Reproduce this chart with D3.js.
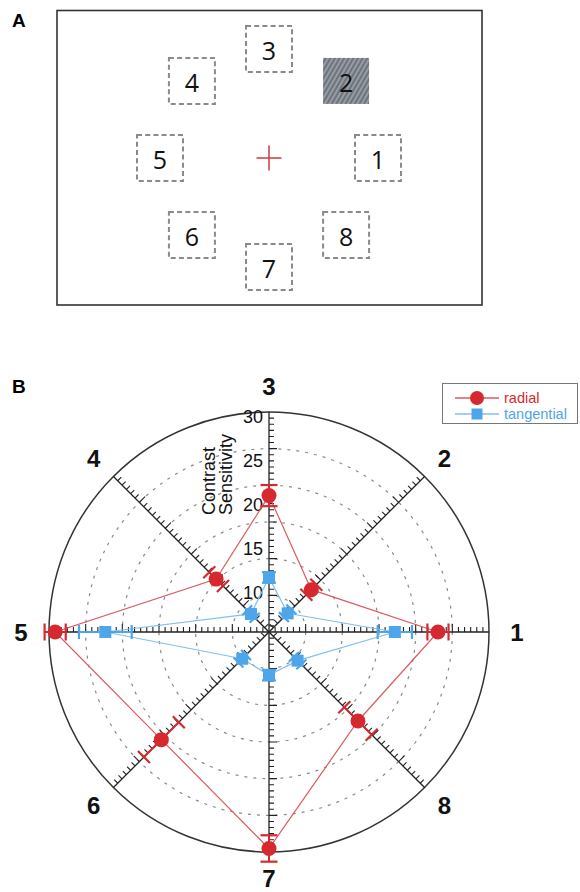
<!DOCTYPE html>
<html>
<head>
<meta charset="utf-8">
<script src="https://cdn.jsdelivr.net/npm/d3@7"></script>
<style>
  html, body { margin: 0; padding: 0; background: #fff; }
  svg { display: block; }
</style>
</head>
<body>
<svg id="fig" width="580" height="892"></svg>
<script>
// ---- data ----
const locations = ["1", "2", "3", "4", "5", "6", "7", "8"];
const angles = [0, 45, 90, 135, 180, 225, 270, 315];          // degrees, CCW from right
const cuedLocation = "2";
const radialMean = [24.2, 11.8, 20.5, 13.5, 29.3, 22.3, 29.6, 19.3];
const radialErr  = [1.2, 0.8, 1.2, 1.1, 1.2, 2.8, 1.5, 2.2];
const tangMean   = [19.3, 8.0, 11.2, 7.9, 23.6, 9.3, 9.9, 9.6];
const tangErr    = [1.95, 0.6, 0.6, 0.6, 3.0, 0.6, 0.6, 0.6];
const tickLabels = [10, 15, 20, 25, 30];
const radialDomain = [5, 30];
const seriesNames = ["radial", "tangential"];

const RED = "#d6282f", RED_LINE = "#dc5a5e";
const BLUE = "#4ea5ea", BLUE_LINE = "#84bff0";

const svg = d3.select("#fig");
const rad = d => d * Math.PI / 180;

// ---- panel A: stimulus layout ----
const A = svg.append("g");
A.append("text").attr("x", 12).attr("y", 27)
  .attr("font-family", "Liberation Sans, Arial, sans-serif")
  .attr("font-weight", "bold").attr("font-size", 19).text("A");

A.append("rect").attr("x", 57).attr("y", 10.5).attr("width", 425).attr("height", 294.5)
  .attr("fill", "none").attr("stroke", "#333").attr("stroke-width", 1.6);

const defs = svg.append("defs");
const pat = defs.append("pattern").attr("id", "grating")
  .attr("patternUnits", "userSpaceOnUse").attr("width", 4).attr("height", 4)
  .attr("patternTransform", "rotate(30)");
pat.append("rect").attr("width", 4).attr("height", 4).attr("fill", "#6e747d");
pat.append("rect").attr("width", 2).attr("height", 4).attr("fill", "#979ca4");

const fix = { x: 269, y: 158 };
const eccentricity = 109, patch = 46;
const patches = A.selectAll("g.patch").data(locations).join("g")
  .attr("class", "patch")
  .attr("transform", (d, i) => `translate(${fix.x + eccentricity * Math.cos(rad(angles[i]))},${fix.y - eccentricity * Math.sin(rad(angles[i]))})`);
patches.append("rect")
  .attr("x", -patch / 2).attr("y", -patch / 2).attr("width", patch).attr("height", patch)
  .attr("fill", d => d === cuedLocation ? "url(#grating)" : "none")
  .attr("stroke", d => d === cuedLocation ? "none" : "#8a8a8a")
  .attr("stroke-width", 2)
  .attr("stroke-dasharray", "5,3.2");
patches.append("text")
  .attr("text-anchor", "middle").attr("dominant-baseline", "central").attr("y", 1)
  .attr("font-family", "Open Sans, Noto Sans, sans-serif").attr("font-size", 25)
  .attr("fill", "#111").text(d => d);

A.append("path")
  .attr("d", `M${fix.x - 12.5},${fix.y}H${fix.x + 12.5}M${fix.x},${fix.y - 12.5}V${fix.y + 12.5}`)
  .attr("stroke", "#d23a3a").attr("stroke-width", 1.5);

// ---- panel B: polar plot ----
svg.append("text").attr("x", 12).attr("y", 393)
  .attr("font-family", "Liberation Sans, Arial, sans-serif")
  .attr("font-weight", "bold").attr("font-size", 19).text("B");

const cx = 269, cy = 632, R = 220;
const r = d3.scaleLinear().domain(radialDomain).range([0, R]);
const P = svg.append("g").attr("transform", `translate(${cx},${cy})`);
const pt = (v, a) => [r(v) * Math.cos(rad(a)), -r(v) * Math.sin(rad(a))];

// grid rings at sixths of the radius
const ringSteps = d3.range(1, 6);
P.selectAll("circle.ring").data(ringSteps).join("circle")
  .attr("r", k => R * k / 6)
  .attr("fill", "none").attr("stroke", "#8a8a8a").attr("stroke-width", 1.2)
  .attr("stroke-dasharray", "3,6");
P.append("circle").attr("r", R).attr("fill", "none").attr("stroke", "#333").attr("stroke-width", 1.5);

// four axis lines through the centre, ticks on one side of each
const axisDirs = [[1, 0], [0, 1], [1, -1], [1, 1]];
const tickStep = R / 36;
axisDirs.forEach(([dx, dy]) => {
  const n = Math.hypot(dx, dy), ux = dx / n, uy = dy / n;
  const nx = uy, ny = -ux;
  P.append("line").attr("x1", -ux * R).attr("y1", -uy * R).attr("x2", ux * R).attr("y2", uy * R)
    .attr("stroke", "#222").attr("stroke-width", 1.3);
  const ticks = [];
  for (let k = -36; k <= 36; k++) if (k !== 0 && Math.abs(k) !== 36) ticks.push(k);
  P.append("path")
    .attr("d", ticks.map(k => {
      const len = k % 6 === 0 ? 8 : 5;
      const px = ux * k * tickStep, py = uy * k * tickStep;
      return `M${px},${py}L${px + nx * len},${py + ny * len}`;
    }).join(""))
    .attr("stroke", "#222").attr("stroke-width", 1.1).attr("fill", "none");
});

// radial tick labels on the upward axis
P.selectAll("text.tick").data(tickLabels).join("text")
  .attr("x", -6).attr("y", d => -r(d) + 5)
  .attr("text-anchor", "end").attr("dominant-baseline", "central")
  .attr("font-family", "Liberation Sans, Arial, sans-serif").attr("font-size", 18)
  .attr("fill", "#111").text(d => d);

svg.append("text").attr("transform", "translate(215,515) rotate(-90)")
  .attr("font-family", "Liberation Sans, Arial, sans-serif").attr("font-size", 18)
  .attr("fill", "#111").text("Contrast");
svg.append("text").attr("transform", "translate(232,515) rotate(-90)")
  .attr("font-family", "Liberation Sans, Arial, sans-serif").attr("font-size", 18)
  .attr("fill", "#111").text("Sensitivity");

// location labels round the plot
P.selectAll("text.loc").data(locations).join("text")
  .attr("x", (d, i) => 248 * Math.cos(rad(angles[i])))
  .attr("y", (d, i) => -246 * Math.sin(rad(angles[i])))
  .attr("text-anchor", "middle").attr("dominant-baseline", "central")
  .attr("font-family", "Liberation Sans, Arial, sans-serif").attr("font-weight", "bold")
  .attr("font-size", 24).attr("fill", "#111").text(d => d);

// series: closed polygon, error bars, markers
function drawSeries(means, errs, lineColor, color, capHalf, marker) {
  const g = P.append("g");
  const line = d3.line().curve(d3.curveLinearClosed);
  g.append("path").attr("d", line(means.map((m, i) => pt(m, angles[i]))))
    .attr("fill", "none").attr("stroke", lineColor).attr("stroke-width", 1.2);
  means.forEach((m, i) => {
    const a = angles[i];
    const lo = pt(m - errs[i], a), hi = pt(m + errs[i], a);
    const px = -Math.sin(rad(a)), py = -Math.cos(rad(a));
    g.append("line").attr("x1", lo[0]).attr("y1", lo[1]).attr("x2", hi[0]).attr("y2", hi[1])
      .attr("stroke", color).attr("stroke-width", 2);
    [lo, hi].forEach(e => {
      g.append("line")
        .attr("x1", e[0] - px * capHalf).attr("y1", e[1] - py * capHalf)
        .attr("x2", e[0] + px * capHalf).attr("y2", e[1] + py * capHalf)
        .attr("stroke", color).attr("stroke-width", 2.2);
    });
    const [x, y] = pt(m, a);
    if (marker === "circle") {
      g.append("circle").attr("cx", x).attr("cy", y).attr("r", 7.5).attr("fill", color);
    } else {
      g.append("rect").attr("x", x - 6).attr("y", y - 6).attr("width", 12).attr("height", 12).attr("fill", color);
    }
  });
}
drawSeries(tangMean, tangErr, BLUE_LINE, BLUE, 7, "square");
drawSeries(radialMean, radialErr, RED_LINE, RED, 8.5, "circle");

// legend
const L = svg.append("g");
L.append("rect").attr("x", 442.5).attr("y", 383.5).attr("width", 135).attr("height", 40)
  .attr("fill", "#fff").attr("stroke", "#777").attr("stroke-width", 1);
const legendItems = [
  { name: seriesNames[0], color: RED, line: RED_LINE, marker: "circle", y: 398 },
  { name: seriesNames[1], color: BLUE, line: BLUE_LINE, marker: "square", y: 414 }
];
legendItems.forEach(it => {
  L.append("line").attr("x1", 455).attr("x2", 499).attr("y1", it.y).attr("y2", it.y)
    .attr("stroke", it.line).attr("stroke-width", 1.3);
  if (it.marker === "circle") L.append("circle").attr("cx", 477).attr("cy", it.y).attr("r", 7).attr("fill", it.color);
  else L.append("rect").attr("x", 471.5).attr("y", it.y - 5.5).attr("width", 11).attr("height", 11).attr("fill", it.color);
  L.append("text").attr("x", 504).attr("y", it.y + 5)
    .attr("font-family", "Liberation Sans, Arial, sans-serif").attr("font-size", 14.5)
    .attr("fill", it.color).text(it.name);
});
</script>
</body>
</html>
